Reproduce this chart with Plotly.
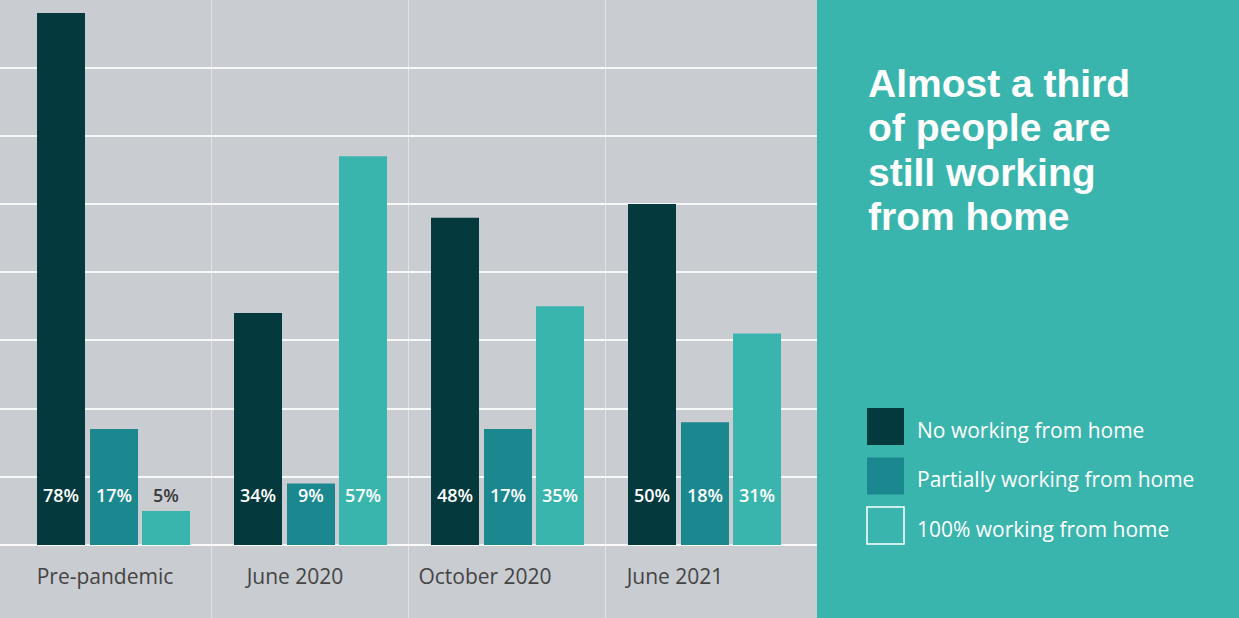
import plotly.graph_objects as go

W, H = 1239, 618

categories = ["Pre-pandemic", "June 2020", "October 2020", "June 2021"]
series_names = ["No working from home", "Partially working from home", "100% working from home"]
no_wfh = [78, 34, 48, 50]
partial_wfh = [17, 9, 17, 18]
full_wfh = [5, 57, 35, 31]
title_lines = ["Almost a third", "of people are", "still working", "from home"]

series_values = [no_wfh, partial_wfh, full_wfh]
colors = ["#043a3e", "#1b8890", "#3ab5ad"]
GRAY = "#c9ccd1"
TEAL = "#3ab5ad"
FONT = "Open Sans"
TITLE_FONT = "Liberation Sans"

# geometry (pixels)
panel_x = 817
base_y = 545
px_per_unit = 197.0
center0 = 113.0
xr = [-center0 / px_per_unit, (panel_x - center0) / px_per_unit]
bar_w = 48 / px_per_unit
offsets = [-76 / px_per_unit, -23 / px_per_unit, 29 / px_per_unit]
label_y = 6.9

fig = go.Figure()
xs = list(range(len(categories)))
for name, vals, col, off in zip(series_names, series_values, colors, offsets):
    fig.add_trace(go.Bar(
        x=xs, y=vals, name=name, marker=dict(color=col, line=dict(width=0)),
        width=bar_w, offset=off, showlegend=False, hoverinfo="skip"))
    fig.add_trace(go.Scatter(
        x=[x + off + bar_w / 2 for x in xs], y=[label_y] * len(xs),
        mode="text", text=[f"{v}%" for v in vals],
        textfont=dict(family=FONT, size=18, weight=600,
                      color=["#ffffff" if v > label_y + 1 else "#3a3a3a" for v in vals]),
        textposition="middle center", showlegend=False, hoverinfo="skip"))

shapes = [
    dict(type="rect", xref="paper", yref="paper", x0=0, x1=panel_x / W, y0=0, y1=1,
         fillcolor=GRAY, line=dict(width=0), layer="below"),
    dict(type="rect", xref="paper", yref="paper", x0=panel_x / W, x1=1, y0=0, y1=1,
         fillcolor=TEAL, line=dict(width=0), layer="below"),
]
for i in range(1, len(categories)):
    shapes.append(dict(type="line", xref="x", yref="paper", x0=i - 0.5, x1=i - 0.5, y0=0, y1=1,
                       line=dict(color="rgba(255,255,255,0.45)", width=1), layer="below"))

annotations = []
# title lines
for k, line in enumerate(title_lines):
    annotations.append(dict(text=line, xref="paper", yref="paper",
                            x=866 / W, y=1 - (84 + 44 * k) / H, xanchor="left", yanchor="middle",
                            showarrow=False,
                            font=dict(family=TITLE_FONT, size=39, weight=700, color="white")))
# legend
box = 37
for k, (name, col) in enumerate(zip(series_names, colors)):
    top = 408 + 49.5 * k
    last = k == len(series_names) - 1
    shapes.append(dict(type="rect", xref="paper", yref="paper",
                       x0=867 / W, x1=(867 + box) / W, y0=1 - (top + box) / H, y1=1 - top / H,
                       fillcolor=col, line=dict(color="white" if last else col, width=1.5 if last else 0)))
    annotations.append(dict(text=name, xref="paper", yref="paper", x=915 / W,
                            y=1 - (top + box / 2 + 3) / H, xanchor="left", yanchor="middle",
                            showarrow=False, font=dict(family=FONT, size=21, color="white")))

fig.update_layout(
    width=W, height=H, margin=dict(l=0, r=0, t=0, b=0),
    paper_bgcolor=GRAY, plot_bgcolor="rgba(0,0,0,0)",
    shapes=shapes, annotations=annotations, showlegend=False,
    xaxis=dict(domain=[0, panel_x / W], range=xr, showgrid=False, zeroline=False,
               tickmode="array", tickvals=[-8 / px_per_unit + i * 190 / px_per_unit for i in xs],
               ticktext=categories, ticks="", ticklabelstandoff=17,
               tickfont=dict(family=FONT, size=21, color="#444444"), fixedrange=True),
    yaxis=dict(domain=[(H - base_y) / H, 1], range=[0, base_y / 6.82],
               showgrid=True, gridcolor="rgba(255,255,255,0.85)", gridwidth=2, dtick=10,
               zeroline=True, zerolinecolor="rgba(255,255,255,0.9)", zerolinewidth=2,
               showticklabels=False, fixedrange=True),
)

fig.write_html("out.html")
